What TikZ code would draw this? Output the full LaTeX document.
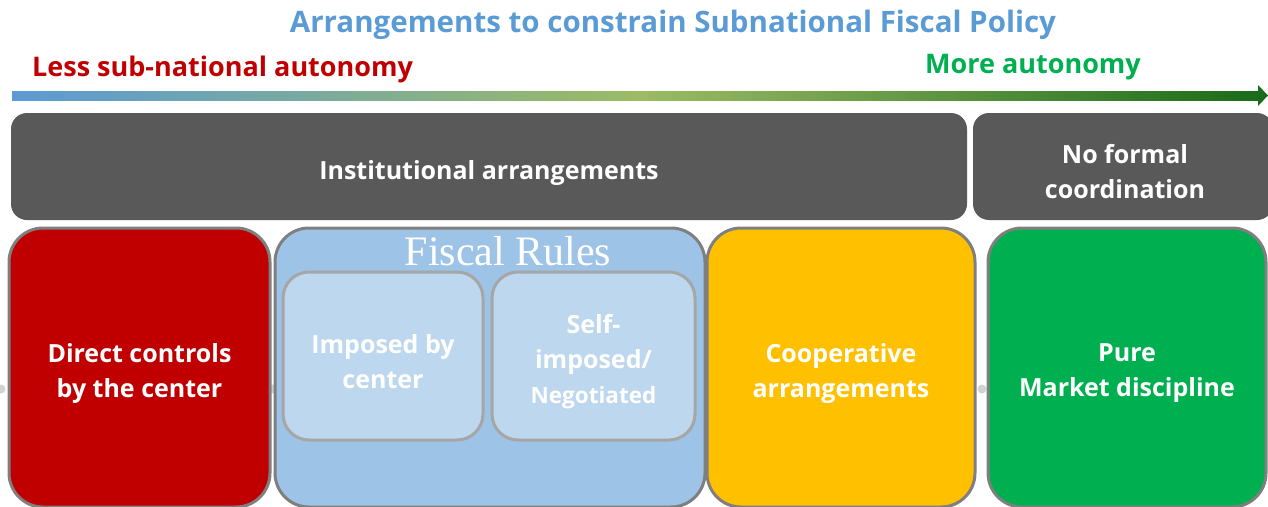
\documentclass[tikz,border=0pt]{standalone}
\usepackage{fontspec}
\setmainfont{Open Sans}
\newfontfamily\serifrm{Liberation Serif}
\definecolor{titleblue}{HTML}{5B9BD5}
\definecolor{lessred}{HTML}{C00000}
\definecolor{moregreen}{HTML}{00B050}
\definecolor{darkbar}{HTML}{595959}
\definecolor{boxborder}{HTML}{7F7F7F}
\definecolor{rulesblue}{HTML}{9DC3E6}
\definecolor{innerblue}{HTML}{BDD7EE}
\definecolor{innerborder}{HTML}{A6A6A6}
\definecolor{coopyellow}{HTML}{FFC000}
\definecolor{gradA}{HTML}{5B9BD5}
\definecolor{gradB}{HTML}{9CBB62}
\definecolor{gradC}{HTML}{1A6B1A}
\definecolor{dotgrey}{HTML}{D0D3D0}
\begin{document}
\begin{tikzpicture}[x=1pt,y=-1pt,
  bigbox/.style={draw=boxborder, line width=3pt, rounded corners=34pt, inner sep=0pt},
  barbox/.style={fill=darkbar, rounded corners=16pt, inner sep=0pt},
  innerbox/.style={fill=innerblue, draw=innerborder, line width=3pt, rounded corners=26pt, inner sep=0pt},
  boxtext/.style={text=white, font=\fontsize{25}{35}\selectfont\bfseries, align=center},
  dotstyle/.style={fill=dotgrey, draw=none}]
\useasboundingbox (0,0) rectangle (1268,506);
\clip (0,0) rectangle (1268,506);
% title and labels
\node[text=titleblue, font=\fontsize{29.5}{34}\selectfont\bfseries] (title) at (673,25) {Arrangements to constrain Subnational Fiscal Policy};
\node[text=lessred, font=\fontsize{27}{30}\selectfont\bfseries, anchor=west, inner sep=0pt] (less) at (32,69) {Less sub-national autonomy};
\node[text=moregreen, font=\fontsize{27}{30}\selectfont\bfseries, anchor=west, inner sep=0pt] (more) at (925,67) {More autonomy};
% gradient arrow
\coordinate (arrowL) at (12,95.5);
\coordinate (arrowM) at (640,95.5);
\coordinate (arrowR) at (1268,95.5);
\shade[left color=gradA, right color=gradB] (12,91) rectangle (640.5,100);
\shade[left color=gradB, right color=gradC] (640,91) rectangle (1260,100);
\fill[gradC] (1258,85) -- (arrowR) -- (1258,106) -- cycle;
% dots
\fill[dotstyle] (1,389) circle (4.5);
\fill[dotstyle] (273,389) circle (4.5);
\fill[dotstyle] (982,389) circle (4.5);
% dark bars
\node[barbox, minimum width=956pt, minimum height=107pt] (inst) at (489,166.5) {};
\node[boxtext] at (489,173) {Institutional arrangements};
\node[barbox, minimum width=300pt, minimum height=107pt] (noformal) at (1123,166.5) {};
\node[boxtext] at (1125,172) {No formal\\coordination};
% big boxes
\node[bigbox, fill=lessred, minimum width=261pt, minimum height=279pt] (direct) at (139.5,367.5) {};
\node[boxtext] at (139.5,373) {Direct controls\\by the center};
\node[bigbox, fill=rulesblue, minimum width=430pt, minimum height=279pt] (rules) at (490,367.5) {};
\node[text=white, font=\fontsize{42}{46}\serifrm] (rulestitle) at (508,251) {Fiscal Rules};
\node[innerbox, minimum width=200pt, minimum height=168pt] (imposed) at (383,356) {};
\node[boxtext] at (383,362) {Imposed by\\center};
\node[innerbox, minimum width=203pt, minimum height=168pt] (self) at (593.5,356) {};
\node[boxtext] at (593.5,362) {Self-\\imposed/\\{\fontsize{22.5}{35}\selectfont Negotiated}};
\node[bigbox, fill=coopyellow, minimum width=268pt, minimum height=279pt] (coop) at (841,367.5) {};
\node[boxtext] at (841,373) {Cooperative\\arrangements};
\node[bigbox, fill=moregreen, minimum width=278pt, minimum height=279pt] (market) at (1127,367.5) {};
\node[boxtext] at (1127,373) {Pure\\Market discipline};
\end{tikzpicture}
\end{document}
